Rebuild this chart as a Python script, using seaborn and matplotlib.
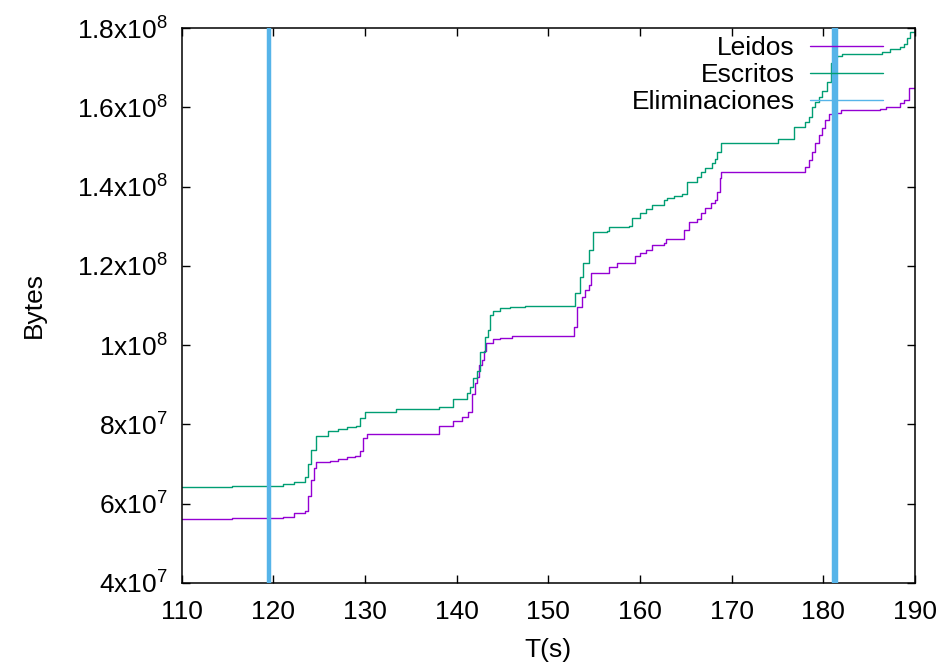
import matplotlib
matplotlib.use("Agg")
import matplotlib.pyplot as plt
import seaborn as sns
import pandas as pd
from matplotlib.lines import Line2D
from matplotlib.ticker import FuncFormatter

# ---- data (T in seconds, values in 1e6 bytes) ----
leidos_t = [110.0, 115.5, 121.1, 122.3, 123.4, 123.8, 124.1, 124.4, 124.7, 126.2, 127.0, 128.0,
            128.9, 129.5, 129.8, 130.2, 138.1, 139.6, 140.6, 141.2, 141.7, 142.0, 142.2, 142.4,
            142.75, 143.0, 143.2, 144.0, 144.75, 146.0, 152.3, 152.75, 153.1, 153.7, 154.0,
            154.4, 154.6, 156.6, 157.5, 159.5, 160.0, 160.6, 161.3, 162.6, 162.8, 164.8, 165.3,
            166.2, 166.6, 167.1, 167.7, 168.2, 168.4, 168.7, 168.8, 178.05, 178.4, 178.8,
            179.1, 179.5, 179.9, 180.2, 180.6, 181.1, 181.9, 186.2, 186.8, 188.4, 188.8, 189.3, 190.0]
leidos_v = [56.1, 56.5, 56.7, 57.6, 58.2, 62.0, 66.0, 68.9, 70.4, 70.9, 71.4, 71.8,
            72.1, 73.2, 76.5, 77.5, 79.6, 80.9, 81.8, 83.2, 87.6, 90.4, 92.0, 95.0,
            96.3, 98.5, 100.5, 101.5, 101.9, 102.2, 102.3, 104.7, 109.7, 112.2, 113.9,
            115.2, 118.3, 119.8, 120.8, 122.5, 123.2, 124.0, 125.2, 125.7, 126.9, 129.0, 131.1,
            131.7, 133.3, 134.5, 135.8, 136.6, 138.7, 142.1, 143.8, 145.0, 146.7, 148.8,
            150.9, 153.0, 154.7, 156.8, 158.3, 158.6, 159.3, 159.6, 160.0, 161.2, 161.8, 164.8, 165.2]

escritos_t = [110.0, 115.5, 121.1, 122.3, 123.4, 123.8, 124.1, 124.6, 126.0, 127.0, 128.0, 129.0,
              129.5, 130.0, 133.4, 138.1, 139.6, 141.1, 141.5, 141.8, 142.2, 142.5, 143.1, 143.4,
              143.65, 144.0, 144.7, 145.8, 147.5, 152.4, 152.9, 153.5, 153.8, 154.4, 154.9, 156.4,
              156.6, 158.75, 159.1, 160.0, 160.6, 161.3, 162.6, 162.95, 163.7, 164.6, 165.1, 166.2,
              166.6, 167.1, 167.9, 168.2, 168.4, 168.85, 175.1, 176.8, 178.05, 178.4, 178.8, 179.1,
              179.5, 179.9, 180.4, 180.8, 181.0, 181.5, 182.05, 186.4, 187.3, 188.4, 188.8, 189.15,
              189.5, 190.0]
escritos_v = [64.3, 64.45, 64.9, 65.6, 66.8, 70.0, 73.5, 77.1, 78.3, 78.8, 79.3, 79.7,
              81.5, 83.05, 84.0, 84.5, 86.3, 87.9, 89.5, 91.6, 93.5, 98.3, 102.1, 103.8,
              107.6, 108.7, 109.3, 109.7, 109.8, 109.9, 113.1, 117.3, 120.6, 124.0, 128.6, 128.9,
              129.7, 130.1, 132.0, 133.3, 134.3, 135.4, 136.6, 137.0, 137.6, 138.1, 141.2, 142.5,
              143.6, 144.8, 145.9, 146.9, 148.8, 151.1, 151.9, 155.1, 156.4, 157.6, 160.0, 161.4,
              162.7, 164.2, 166.5, 171.1, 172.6, 172.9, 173.4, 174.0, 174.6, 175.3, 176.0, 177.4,
              179.1, 179.3]

eliminaciones_t = [119.55, 181.2, 181.4]

xticks = [110, 120, 130, 140, 150, 160, 170, 180, 190]
yticks = [4e7, 6e7, 8e7, 1e8, 1.2e8, 1.4e8, 1.6e8, 1.8e8]

C_LEI = "#9400d3"
C_ESC = "#009e73"
C_ELI = "#56b4e9"
FS = 19

sns.set_theme(style="white")
plt.rcParams["font.family"] = ["Liberation Sans", "DejaVu Sans"]
plt.rcParams["mathtext.default"] = "regular"
plt.rcParams["text.color"] = "black"
plt.rcParams["axes.labelcolor"] = "black"

fig = plt.figure(figsize=(9.43, 6.64), dpi=100)
ax = fig.add_axes([181.7 / 943, 1 - 583 / 664, (915 - 181.7) / 943, (583 - 28) / 664])

df_l = pd.DataFrame({"T": leidos_t, "B": [v * 1e6 for v in leidos_v]})
df_e = pd.DataFrame({"T": escritos_t, "B": [v * 1e6 for v in escritos_v]})

sns.lineplot(data=df_l, x="T", y="B", ax=ax, color=C_LEI, lw=1.0, drawstyle="steps-post",
             estimator=None, sort=False)
sns.lineplot(data=df_e, x="T", y="B", ax=ax, color=C_ESC, lw=1.0, drawstyle="steps-post",
             estimator=None, sort=False)
for t in eliminaciones_t:
    ax.axvline(t, color=C_ELI, lw=3.2, zorder=3)

ax.set_xlim(110, 190)
ax.set_ylim(4e7, 1.8e8)
ax.set_xticks(xticks)
ax.set_yticks(yticks)


def fmt(v, pos):
    e = 0
    m = v
    while m >= 10:
        m /= 10.0
        e += 1
    s = ("%g" % round(m, 3))
    return s + "x10$^{" + str(e) + "}$"


ax.yaxis.set_major_formatter(FuncFormatter(fmt))
ax.tick_params(axis="both", which="major", direction="in", length=6, width=1,
               labelsize=FS, colors="black", top=True, right=True,
               bottom=True, left=True)
ax.tick_params(axis="x", pad=12)
ax.tick_params(axis="y", pad=10)
for sp in ax.spines.values():
    sp.set_color("black")
    sp.set_linewidth(1.1)
    sp.set_visible(True)

ax.set_xlabel("T(s)", fontsize=FS, color="black", labelpad=10)
ax.set_ylabel("Bytes", fontsize=FS, color="black", labelpad=22)

handles = [Line2D([], [], color=C_LEI, lw=1.0),
           Line2D([], [], color=C_ESC, lw=1.0),
           Line2D([], [], color=C_ELI, lw=1.0)]
leg = ax.legend(handles, ["Leidos", "Escritos", "Eliminaciones"], loc="upper right",
                bbox_to_anchor=(883 / 943, 1 - 36 / 664), bbox_transform=fig.transFigure,
                markerfirst=False, frameon=False, fontsize=FS, handlelength=2.75,
                handletextpad=0.6, labelspacing=0.12, borderpad=0, borderaxespad=0)
for txt in leg.get_texts():
    txt.set_color("black")

fig.savefig("out.png", dpi=100)
